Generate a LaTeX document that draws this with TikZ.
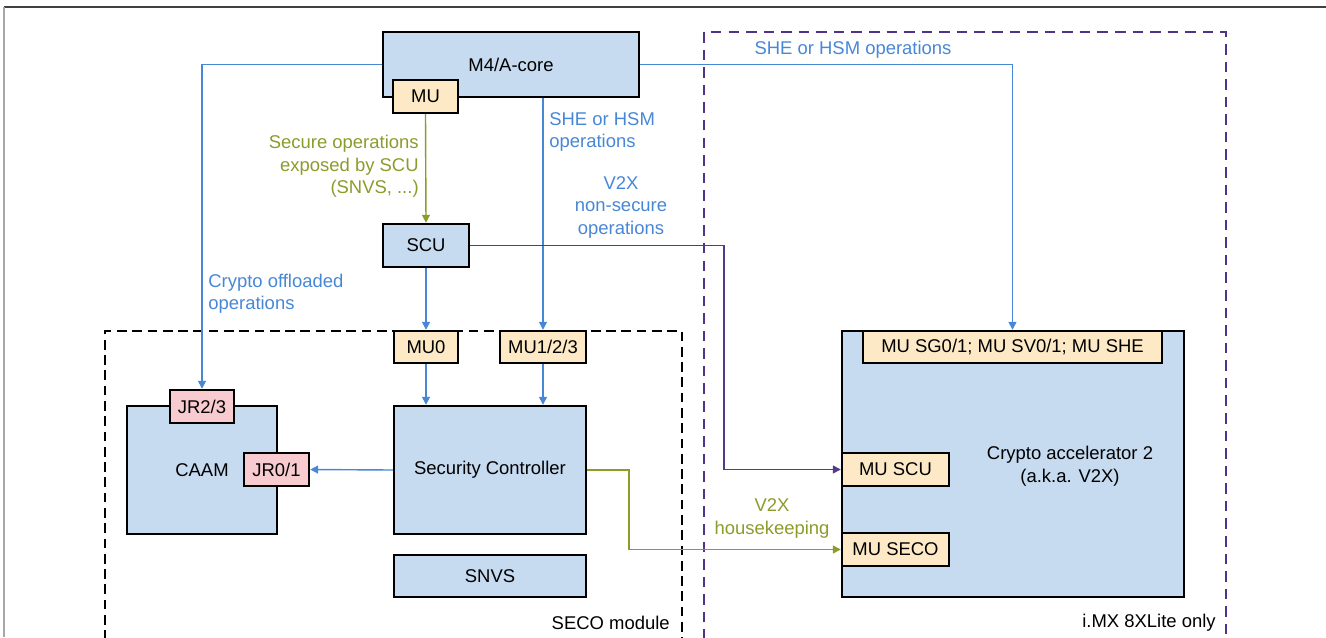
\documentclass[tikz,border=0pt]{standalone}
\usepackage{fontspec}
\setmainfont{Liberation Sans}
\usepackage{xcolor}
\usepackage{tikz}
\usetikzlibrary{arrows.meta}
\definecolor{boxblue}{HTML}{C6DAF0}
\definecolor{mutan}{HTML}{FDE9C6}
\definecolor{jrpink}{HTML}{F8CBD0}
\definecolor{linkblue}{HTML}{4787D6}
\definecolor{secgreen}{HTML}{8D9B2B}
\definecolor{v2xpurple}{HTML}{553A8C}
\definecolor{dashpurple}{HTML}{4E3386}

\begin{document}
\begin{tikzpicture}[x=0.02cm, y=-0.02cm,
  every node/.style={font=\fontsize{10.5}{12.8}\selectfont, inner sep=0pt},
  blk/.style={draw=black, line width=1.4pt, fill=boxblue},
  mubox/.style={blk, fill=mutan},
  jrbox/.style={blk, fill=jrpink},
  lnk/.style={line width=0.8pt, -{Triangle[length=4.5pt,width=4.5pt]}},
  region/.style={line width=1.2pt, dash pattern=on 5.5pt off 3.2pt}]
  \useasboundingbox (0,0) rectangle (1326,637);
  \draw[black!75, line width=0.9pt] (4,7) -- (1326,7);
  \draw[black!35, line width=0.9pt] (4,7) -- (4,637);
  \draw[region] (105,640) -- (105,331) -- (682,331) -- (682,640);
  \draw[region, dashpurple, line width=1.5pt, dash pattern=on 6pt off 4pt] (704,640) -- (704,32) -- (1226,32) -- (1226,640);
  \node[anchor=east] (secolbl) at (670,623) {SECO module};
  \node[anchor=east] (imxlbl) at (1216,623) {i.MX 8XLite only};

  \node[blk, minimum width=5.12cm, minimum height=1.30cm] (m4) at (511,64.5) {M4/A-core};
  \node[mubox, minimum width=1.30cm, minimum height=0.66cm] (mu) at (425.5,96.5) {MU};
  \node[blk, minimum width=1.72cm, minimum height=0.86cm] (scu) at (426,245.5) {SCU};
  \node[mubox, minimum width=1.28cm, minimum height=0.64cm] (mu0) at (426,347) {MU0};
  \node[mubox, minimum width=1.72cm, minimum height=0.64cm] (mu123) at (543,347) {MU1/2/3};
  \node[blk, minimum width=3.84cm, minimum height=2.56cm] (sc) at (490,470) {Security Controller};
  \node[blk, minimum width=3.84cm, minimum height=0.84cm] (snvs) at (490,576) {SNVS};
  \node[blk, minimum width=3.0cm, minimum height=2.56cm] (caam) at (202,470) {CAAM};
  \node[jrbox, minimum width=1.28cm, minimum height=0.66cm] (jr23) at (202,406.5) {JR2/3};
  \node[jrbox, minimum width=1.30cm, minimum height=0.66cm] (jr01) at (276.5,469.5) {JR0/1};
  \node[blk, minimum width=6.84cm, minimum height=5.32cm] (v2x) at (1013,464) {};
  \node[align=center] (v2xlbl) at (1070,466) {Crypto accelerator 2\\(a.k.a. V2X)};
  \node[mubox, minimum width=5.98cm, minimum height=0.64cm] (musg) at (1012.5,347) {MU SG0/1; MU SV0/1; MU SHE};
  \node[mubox, minimum width=2.14cm, minimum height=0.66cm] (muscu) at (895.5,469.5) {MU SCU};
  \node[mubox, minimum width=2.14cm, minimum height=0.66cm] (museco) at (895.5,549.5) {MU SECO};

  \coordinate (scubend) at (724,469.5);
  \coordinate (hkbend) at (629,549.5);
  \draw[lnk, linkblue] (m4.west) -| (jr23.north);
  \draw[lnk, linkblue] (m4.south -| mu123.north) -- (mu123.north);
  \draw[lnk, linkblue] (m4.east) -| (musg.north);
  \draw[lnk, secgreen] (mu.south) -- (scu.north);
  \draw[lnk, v2xpurple] (scu.east) -| (scubend) -- (muscu.west);
  \draw[lnk, linkblue] (scu.south) -- (mu0.north);
  \draw[lnk, linkblue] (mu0.south) -- (sc.north -| mu0.south);
  \draw[lnk, linkblue] (mu123.south) -- (sc.north -| mu123.south);
  \draw[lnk, linkblue] (sc.west) -- (jr01.east);
  \draw[lnk, secgreen] (sc.east) -| (hkbend) -- (museco.west);

  \node[linkblue] (shetop) at (853,50) {SHE or HSM operations};
  \node[secgreen, align=right, anchor=east] (seclbl) at (419,166.5) {Secure operations\\exposed by SCU\\(SNVS, ...)};
  \node[linkblue, align=left, anchor=west] (shelbl) at (549,132) {SHE or HSM\\operations};
  \node[linkblue, align=center] (nslbl) at (621,207) {V2X\\non-secure\\operations};
  \node[linkblue, align=left, anchor=west] (cryptolbl) at (208,293.5) {Crypto offloaded\\operations};
  \node[secgreen, align=center] (hklbl) at (772,518.5) {V2X\\housekeeping};
\end{tikzpicture}
\end{document}
